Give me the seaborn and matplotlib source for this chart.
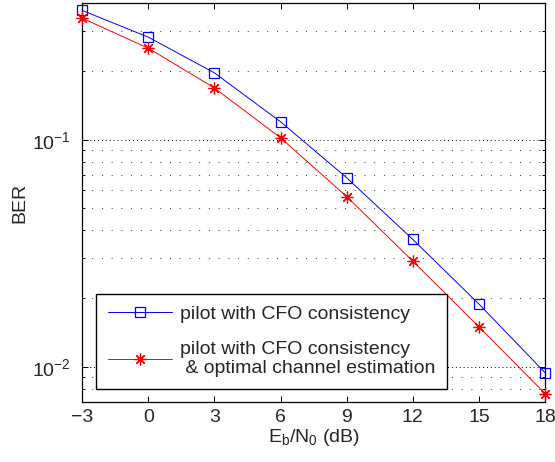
import matplotlib
matplotlib.use('Agg')
import matplotlib.pyplot as plt
import seaborn as sns
from matplotlib.ticker import LogLocator, NullFormatter

# Data
ebn0 = [-3, 0, 3, 6, 9, 12, 15, 18]
ber_cfo = [0.371, 0.283, 0.197, 0.120, 0.068, 0.0364, 0.0189, 0.00942]
ber_cfo_opt = [0.343, 0.253, 0.169, 0.102, 0.0562, 0.0292, 0.0150, 0.00762]
series_labels = ['pilot with CFO consistency',
                 'pilot with CFO consistency\n & optimal channel estimation']
xticks = [-3, 0, 3, 6, 9, 12, 15, 18]

sns.set_style('ticks')
plt.rcParams['font.family'] = ['Liberation Sans', 'DejaVu Sans']
plt.rcParams['mathtext.default'] = 'regular'

fig = plt.figure(figsize=(5.55, 4.62), dpi=100)
ax = fig.add_axes([0.148, 0.130, 0.834, 0.8635])

sns.lineplot(x=ebn0, y=ber_cfo, ax=ax, color='blue', linewidth=0.7,
             marker='s', markersize=7.5, markerfacecolor='none',
             markeredgecolor='blue', markeredgewidth=0.9,
             clip_on=False, zorder=3)
sns.lineplot(x=ebn0, y=ber_cfo_opt, ax=ax, color='red', linewidth=0.7,
             marker=(8, 2, 0), markersize=8.5, markerfacecolor='red',
             markeredgecolor='red', markeredgewidth=0.9,
             clip_on=False, zorder=3)

ax.set_yscale('log')
ax.set_xlim(-3, 18)
ax.set_ylim(0.007, 0.4)
ax.set_xticks(xticks)
ax.yaxis.set_major_locator(LogLocator(base=10))
ax.yaxis.set_minor_locator(LogLocator(base=10, subs=range(2, 10)))
ax.yaxis.set_minor_formatter(NullFormatter())

ax.yaxis.grid(True, which='major', color='black', linestyle=(0, (1, 3)), linewidth=0.7)
ax.yaxis.grid(True, which='minor', color='0.2', linestyle=(0, (1, 9)), linewidth=0.7)
ax.xaxis.grid(False)

for s in ax.spines.values():
    s.set_visible(True)
    s.set_color('black')
    s.set_linewidth(0.9)

ax.tick_params(which='both', direction='in', top=True, right=True,
               labelsize=14, color='black', width=0.7)
ax.tick_params(which='major', length=4)
ax.tick_params(which='minor', length=2.5)
ax.tick_params(axis='x', pad=5)
ax.tick_params(axis='y', pad=8)

ax.set_xlabel(r'$E_b/N_0$ (dB)', fontsize=14, labelpad=1)
ax.set_ylabel('BER', fontsize=14, labelpad=3)

lines = ax.get_lines()[:2]
leg = ax.legend(lines, series_labels, loc='lower left',
                bbox_to_anchor=(0.03, 0.033), fontsize=14,
                frameon=True, fancybox=False, edgecolor='black', framealpha=1,
                handlelength=3.3, handletextpad=0.4, borderpad=0.6,
                labelspacing=0.9, borderaxespad=0)
leg.get_frame().set_linewidth(1.0)

fig.savefig('out.png', dpi=100)
